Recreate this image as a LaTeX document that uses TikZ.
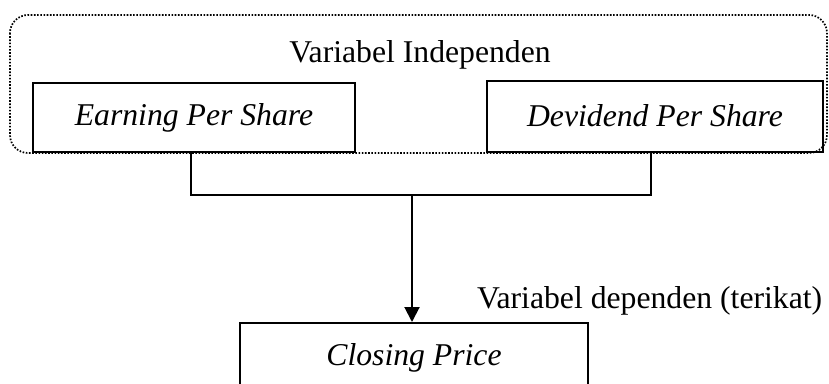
\documentclass[tikz,border=0pt]{standalone}
\usepackage{fontspec}
\setmainfont{Liberation Serif}
\usetikzlibrary{arrows.meta}
\begin{document}
\begin{tikzpicture}[x=1pt,y=-1pt,
  txt/.style={font=\fontsize{31.7}{38}\selectfont, inner sep=0pt},
  box/.style={draw, line width=2pt, inner sep=0pt, font=\fontsize{31.7}{38}\selectfont\itshape},
  conn/.style={line width=2pt, line join=miter},
  frame/.style={line width=1.7pt, dash pattern=on 1.6pt off 1.6pt, rounded corners=18pt}]
\useasboundingbox (0,0) rectangle (829,383);
\clip (0,0) rectangle (829,383);
\draw[frame] (10,15) rectangle (827,153);
\node[txt, anchor=base] (title) at (420,62) {Variabel Independen};
\node[box, minimum width=322pt, minimum height=69pt] (eps) at (194,117.5) {Earning Per Share};
\node[box, minimum width=336pt, minimum height=71pt] (dps) at (655,116) {Devidend Per Share};
\node[box, minimum width=348pt, minimum height=69pt] (cp) at (414,357.5) {Closing Price};
\node[txt, anchor=base west] (dep) at (477,308) {Variabel dependen (terikat)};
\coordinate (j) at (412,195);
\draw[conn] ([xshift=-3pt]eps.south) |- (j) -| ([xshift=-4pt]dps.south);
\draw[conn, -{Triangle[width=15pt,length=15pt]}] (j) -- (j |- cp.north);
\end{tikzpicture}
\end{document}
